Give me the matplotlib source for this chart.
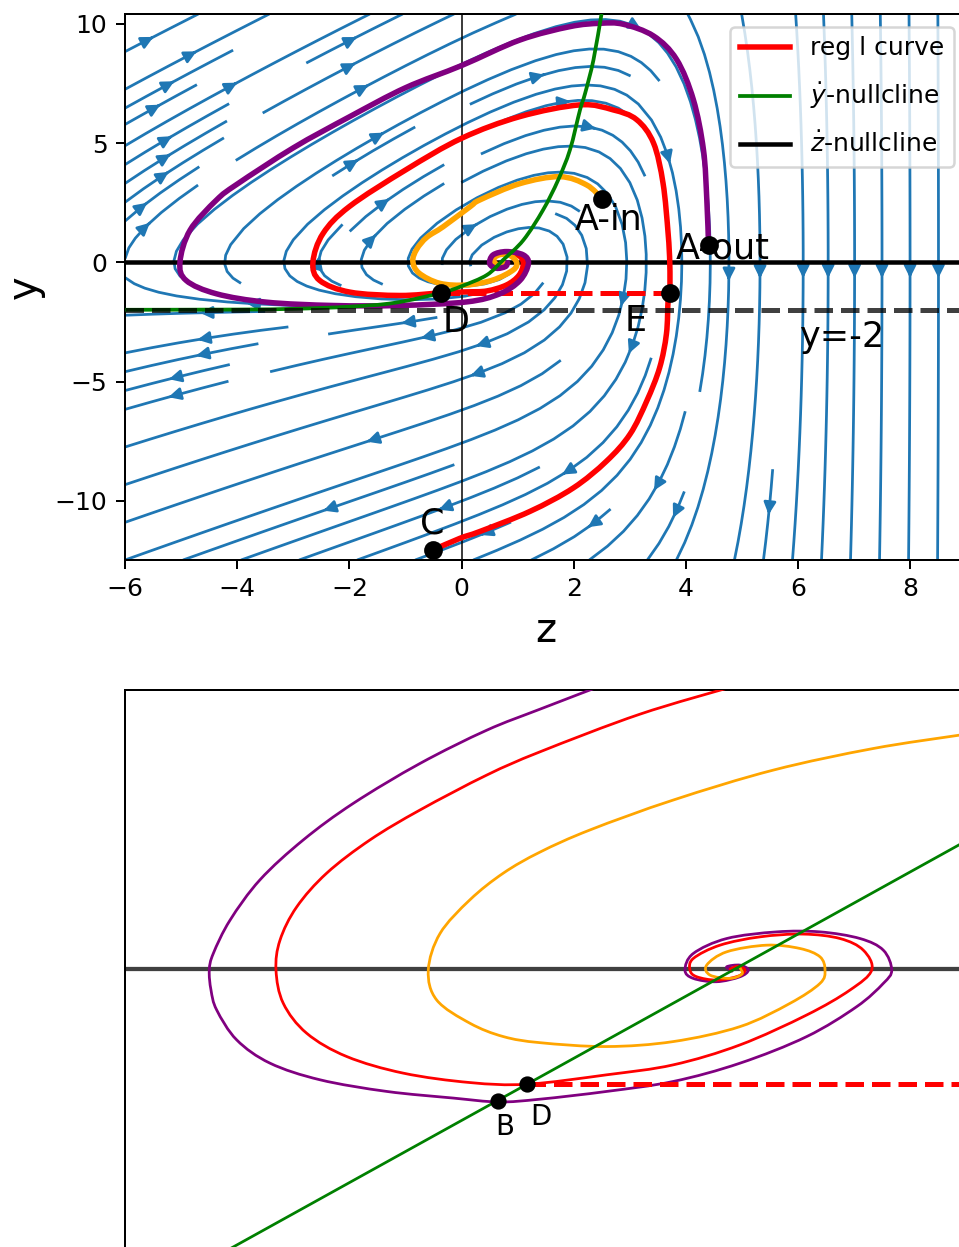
import numpy as np
import matplotlib
matplotlib.use("Agg")
import matplotlib.pyplot as plt
from matplotlib.path import Path
from matplotlib.patches import PathPatch

# ---------------- data ----------------
# top panel: phase plane (z, y)
purple_z = [4.40, 4.37, 4.31, 4.13, 3.83, 3.42, 2.88, 2.47, 1.93, 1.04, 0.0, -1.0, -2.0, -3.0, -4.0, -4.37,
            -4.84, -5.02, -4.91, -4.37, -3.48, -2.29, -1.10, 0.09, 0.68, 1.04, 1.19, 1.10, 0.80, 0.56,
            0.50, 0.62, 0.78, 0.82]
purple_y = [0.72, 2.61, 4.72, 6.82, 8.51, 9.49, 9.98, 10.02, 9.88, 9.32, 8.25, 7.32, 6.10, 4.80, 3.28, 2.61,
            1.35, 0.01, -0.76, -1.32, -1.67, -1.81, -1.81, -1.66, -1.32, -0.76, -0.06, 0.31, 0.45, 0.31,
            -0.06, -0.25, -0.18, -0.02]

red_z = [-0.51, -0.03, 0.33, 1.22, 1.99, 2.58, 3.00, 3.30, 3.53, 3.65, 3.68, 3.71, 3.71, 3.68, 3.59,
         3.42, 3.12, 2.70, 2.11, 1.04, 0.0, -1.0, -2.0, -2.47, -2.65, -2.53, -1.99, -1.10, -0.36,
         0.09, 0.45, 0.80, 1.02, 1.10, 1.02, 0.80, 0.60, 0.55, 0.66, 0.78]
red_y = [-12.06, -11.57, -11.28, -10.44, -9.46, -8.34, -7.21, -5.81, -4.41, -3.00, -1.60, -1.29, -0.06,
         1.21, 3.31, 5.00, 5.98, 6.39, 6.60, 6.11, 5.20, 3.87, 2.34, 1.21, 0.01, -0.76, -1.25, -1.39,
         -1.28, -1.24, -1.20, -0.95, -0.55, -0.05, 0.28, 0.40, 0.28, 0.00, -0.18, -0.12]

orange_z = [2.51, 2.23, 1.75, 1.04, 0.33, 0.15, -0.33, -0.62, -0.80, -0.87, -0.76, -0.39, 0.09, 0.56,
            0.92, 0.98, 0.86, 0.70, 0.58, 0.60, 0.72, 0.78]
orange_y = [2.65, 3.24, 3.59, 3.30, 2.62, 2.33, 1.49, 1.05, 0.55, 0.05, -0.45, -0.88, -0.95, -0.74,
            -0.32, 0.00, 0.29, 0.33, 0.18, -0.05, -0.12, -0.05]

green_z = [-6.0, -4.0, -3.0, -2.0, -1.2, -0.36, 0.0, 0.45, 0.74, 1.10, 1.45, 1.72, 1.93, 2.11, 2.20,
           2.35, 2.49, 2.53]
green_y = [-1.99, -1.98, -1.95, -1.86, -1.70, -1.28, -1.00, -0.53, 0.10, 0.93, 2.19, 3.45, 4.71, 6.39,
           7.08, 8.49, 10.37, 10.80]

pt_names = ["A-in", "A-out", "C", "D", "E"]
pt_z = [2.51, 4.40, -0.51, -0.36, 3.71]
pt_y = [2.65, 0.72, -12.06, -1.28, -1.29]

y_asym = -2.0      # dashed horizontal line
reg_dash_y = -1.28  # red dashed segment D -> E

# bottom panel: zoomed view (arbitrary units, green line y = x)
bp_x = [-1.30, -1.95, -2.483, -3.15, -3.817, -4.317, -4.75, -5.05, -5.217, -5.257, -5.24, -5.183, -4.983,
        -4.65, -4.15, -3.483, -2.817, -2.367, -1.95, -1.283, -0.617, 0.05, 0.717, 1.217, 1.483, 1.567,
        1.483, 1.25, 0.85, 0.417, -0.083, -0.417, -0.50, -0.417, -0.183, 0.05, 0.133, 0.05, -0.083, -0.03]
bp_y = [5.14, 4.69, 4.31, 3.71, 2.99, 2.33, 1.61, 0.88, 0.28, -0.02, -0.38, -0.74, -1.28,
        -1.70, -2.00, -2.21, -2.33, -2.40, -2.35, -2.21, -2.03, -1.70, -1.22, -0.68, -0.26, -0.02,
        0.34, 0.55, 0.67, 0.67, 0.55, 0.28, -0.02, -0.17, -0.23, -0.14, -0.02, 0.07, 0.04, -0.04]

br_x = [0.0, -0.95, -1.95, -2.483, -3.15, -3.65, -4.083, -4.383, -4.55, -4.59, -4.517, -4.283, -3.883,
        -3.317, -2.65, -2.077, -1.283, -0.617, 0.05, 0.717, 1.15, 1.367, 1.283, 1.05, 0.683, 0.25, -0.15,
        -0.417, -0.45, -0.383, -0.183, 0.03, 0.10, 0.03, -0.05]
br_y = [5.11, 4.60, 3.92, 3.50, 2.87, 2.33, 1.73, 1.12, 0.52, -0.02, -0.62, -1.16, -1.58, -1.88, -2.05,
        -2.08, -1.91, -1.73, -1.37, -0.83, -0.38, -0.02, 0.34, 0.55, 0.63, 0.58, 0.43, 0.19, -0.02,
        -0.14, -0.20, -0.13, -0.02, 0.05, 0.0]

bo_x = [2.316, 2.24, 1.383, 0.383, -0.617, -1.45, -1.95, -2.317, -2.65, -2.95, -3.067, -2.983, -2.65,
        -2.317, -1.95, -1.283, -0.617, 0.05, 0.55, 0.85, 0.90, 0.85, 0.65, 0.317, -0.083, -0.283, -0.25,
        -0.05, 0.07, 0.05]
bo_y = [4.24, 4.22, 3.98, 3.59, 3.05, 2.51, 2.11, 1.73, 1.25, 0.64, -0.02, -0.56, -0.98, -1.22, -1.33,
        -1.40, -1.31, -1.04, -0.62, -0.26, -0.02, 0.22, 0.37, 0.43, 0.31, 0.07, -0.11, -0.17, -0.09, 0.02]

bg_x = [-6.2, 2.5]
bg_y = [-6.2, 2.5]

bpt_names = ["B", "D"]
bpt_x = [-2.367, -2.077]
bpt_y = [-2.39, -2.08]


def smooth_curve(ax, xs, ys, **kw):
    """Draw a curve through the read points as a smooth (cubic Bezier) path."""
    P = np.column_stack([xs, ys]).astype(float)
    n = len(P)
    verts = [P[0]]
    codes = [Path.MOVETO]
    for i in range(n - 1):
        p0 = P[i - 1] if i > 0 else P[i]
        p1 = P[i]
        p2 = P[i + 1]
        p3 = P[i + 2] if i + 2 < n else P[i + 1]
        c1 = p1 + (p2 - p0) / 6.0
        c2 = p2 - (p3 - p1) / 6.0
        verts += [c1, c2, p2]
        codes += [Path.CURVE4] * 3
    patch = PathPatch(Path(verts, codes), fill=False, capstyle="round", joinstyle="round", **kw)
    ax.add_patch(patch)
    return patch


# ---------------- figure ----------------
DPI = 180
fig = plt.figure(figsize=(959 / DPI, 1247 / DPI), dpi=DPI)

W, H = 959.0, 1247.0
ax = fig.add_axes([125 / W, (H - 560) / H, 841.6 / W, 546 / H])

# vector field for the stream plot
zg = np.linspace(-6, 9, 200)
yg = np.linspace(-12.48, 10.41, 200)
Z, Y = np.meshgrid(zg, yg)
U = Y
V = Y + 2 - np.exp(Z)
ax.streamplot(Z, Y, U, V, color="C0", density=1, linewidth=1.1, zorder=1)

ax.axhline(0, color="k", lw=1.8, zorder=3)
ax.axvline(0, color="k", lw=0.6, zorder=2.5)

smooth_curve(ax, red_z, red_y, edgecolor="red", lw=2.2, zorder=4)
smooth_curve(ax, orange_z, orange_y, edgecolor="orange", lw=2.2, zorder=4)
smooth_curve(ax, purple_z, purple_y, edgecolor="purple", lw=2.2, zorder=4.2)
smooth_curve(ax, green_z, green_y, edgecolor="green", lw=1.5, zorder=4.5)
ax.plot([pt_z[3], pt_z[4]], [reg_dash_y, reg_dash_y], color="red", ls="--", lw=2, zorder=4.1)
ax.axhline(y_asym, color="k", ls="--", lw=2, alpha=0.75, zorder=4.6)

# legend proxies
ax.plot([], [], color="red", lw=2.2, label="reg l curve")
ax.plot([], [], color="green", lw=1.5, label=r"$\dot{y}$-nullcline")
ax.plot([], [], color="k", lw=1.8, label=r"$\dot{z}$-nullcline")

ax.plot(pt_z, pt_y, "o", color="k", ms=6.5, zorder=6)

txt_kw = dict(fontsize=14, zorder=7)
ax.text(2.02, 1.36, "A-in", **txt_kw)
ax.text(3.82, 0.18, "A-out", **txt_kw)
ax.text(-0.74, -11.37, "C", **txt_kw)
ax.text(-0.33, -2.92, "D", **txt_kw)
ax.text(2.91, -2.88, "E", **txt_kw)
ax.text(6.03, -3.53, "y=-2", **txt_kw)

ax.set_xlim(-6, 9)
ax.set_ylim(-12.48, 10.41)
ax.set_xticks([-6, -4, -2, 0, 2, 4, 6, 8])
ax.set_yticks([-10, -5, 0, 5, 10])
ax.set_xlabel("z", fontsize=16)
ax.set_ylabel("y", fontsize=16)
ax.legend(loc="upper right", fontsize=10, labelspacing=0.8)

# bottom panel
ax2 = fig.add_axes([125 / W, (H - 1262) / H, 841.6 / W, 572 / H])
ax2.axhline(0, color="k", lw=1.7, alpha=0.75, zorder=2)
smooth_curve(ax2, bp_x, bp_y, edgecolor="purple", lw=1.1, zorder=3)
smooth_curve(ax2, br_x, br_y, edgecolor="red", lw=1.1, zorder=3)
smooth_curve(ax2, bo_x, bo_y, edgecolor="orange", lw=1.1, zorder=3)
ax2.plot(bg_x, bg_y, color="green", lw=1.1, zorder=3)
ax2.plot([bpt_x[1], 2.5], [bpt_y[1], bpt_y[1]], color="red", ls="--", lw=2, zorder=3)
ax2.plot(bpt_x, bpt_y, "o", color="k", ms=5.5, zorder=5)
ax2.text(-2.40, -3.0, "B", fontsize=11)
ax2.text(-2.05, -2.82, "D", fontsize=11)
ax2.set_xlim(-6.10, 2.316)
ax2.set_ylim(-5.289, 5.036)
ax2.set_xticks([])
ax2.set_yticks([])

fig.savefig("out.png", dpi=DPI)
